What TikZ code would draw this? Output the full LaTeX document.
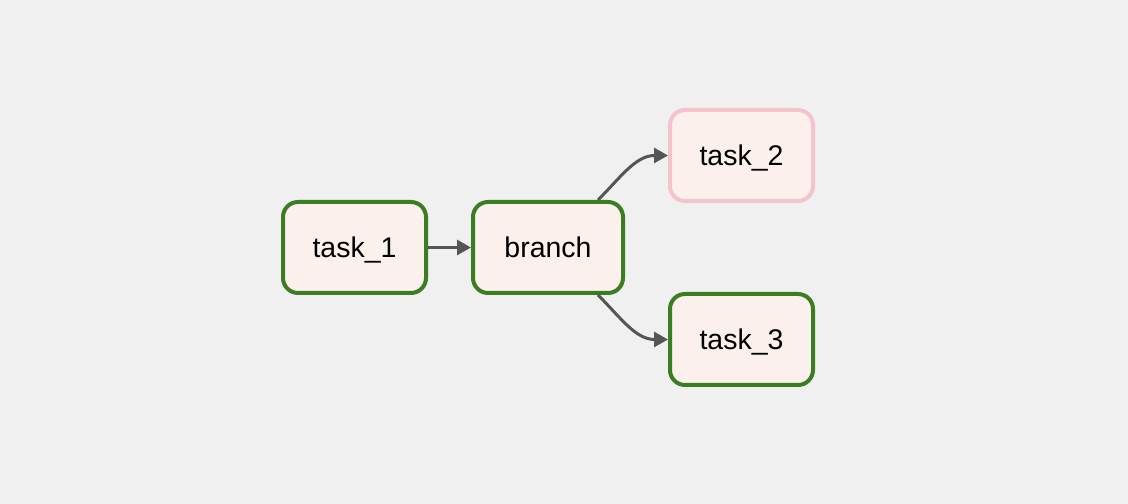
\documentclass[tikz,border=0pt]{standalone}
\usepackage{fontspec}
\setmainfont{Liberation Sans}
\usepackage{xcolor}
\usepackage{tikz}
\usetikzlibrary{arrows.meta,positioning,calc}

\definecolor{canvas}{HTML}{F0F0F0}
\definecolor{taskfill}{HTML}{FBF0EC}
\definecolor{okgreen}{HTML}{3A7D22}
\definecolor{skippink}{HTML}{F5C3CD}
\definecolor{edgegray}{HTML}{555555}

\tikzset{
  task/.style={draw, rounded corners=0.3cm, fill=taskfill, line width=0.08cm,
    minimum width=2.86cm, minimum height=1.82cm, inner sep=0pt,
    text height=1.15em, text depth=0pt},
  done/.style={task, draw=okgreen},
  skipped/.style={task, draw=skippink},
  flow/.style={draw=edgegray, line width=0.06cm,
    -{Triangle[length=0.28cm, width=0.3cm]}}
}

\begin{document}
\begin{tikzpicture}[font=\fontsize{16.2}{19}\selectfont]
% --- Canvas ---
\fill[canvas] (0,0) rectangle (22.56,10.08);
\useasboundingbox (0,0) rectangle (22.56,10.08);
% --- Tasks ---
\node[done] (task_1) at (7.09,5.13) {task\_1};
\node[done, minimum width=3.0cm, right=0.86cm of task_1] (branch) {branch};
\node[skipped, right=0.86cm of branch, yshift=1.84cm] (task_2) {task\_2};
\node[done, right=0.86cm of branch, yshift=-1.84cm] (task_3) {task\_3};
% --- Dependencies ---
\draw[flow] (task_1) -- (branch);
\draw[flow] ([xshift=1cm]branch.north) to[out=45, in=180] (task_2.west);
\draw[flow] ([xshift=1cm]branch.south) to[out=-45, in=180] (task_3.west);
\end{tikzpicture}
\end{document}
